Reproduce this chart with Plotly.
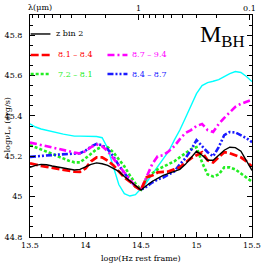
import numpy as np
import plotly.graph_objects as go

# log nu grid (Hz, rest frame)
lognu = [13.5, 13.55, 13.6, 13.65, 13.7, 13.75, 13.8, 13.85, 13.9, 13.95,
         14.0, 14.05, 14.1, 14.15, 14.2, 14.25, 14.3, 14.35, 14.4, 14.45,
         14.5, 14.55, 14.6, 14.65, 14.7, 14.75, 14.8, 14.85, 14.9, 14.95,
         15.0, 15.05, 15.1, 15.15, 15.2, 15.25, 15.3, 15.35, 15.4, 15.45, 15.5]

zbin2 = [45.145, 45.155, 45.16, 45.158, 45.152, 45.147, 45.142, 45.137, 45.132, 45.135,
         45.148, 45.16, 45.167, 45.163, 45.155, 45.14, 45.125, 45.1, 45.078, 45.052,
         45.033, 45.055, 45.075, 45.09, 45.105, 45.115, 45.125, 45.135, 45.16, 45.19,
         45.225, 45.205, 45.18, 45.18, 45.205, 45.23, 45.245, 45.243, 45.225, 45.18, 45.13]

m81_84 = [45.165, 45.158, 45.152, 45.148, 45.143, 45.138, 45.133, 45.128, 45.124, 45.123,
          45.14, 45.175, 45.195, 45.195, 45.178, 45.156, 45.125, 45.095, 45.075, 45.05,
          45.033, 45.095, 45.105, 45.12, 45.123, 45.125, 45.135, 45.145, 45.168, 45.19,
          45.205, 45.22, 45.18, 45.17, 45.195, 45.22, 45.215, 45.205, 45.195, 45.175, 45.148]

m87_94 = [45.268, 45.262, 45.255, 45.25, 45.245, 45.24, 45.233, 45.225, 45.218, 45.214,
          45.225, 45.245, 45.258, 45.25, 45.225, 45.19, 45.15, 45.115, 45.085, 45.05,
          45.035, 45.1, 45.16, 45.2, 45.205, 45.225, 45.25, 45.285, 45.315, 45.33,
          45.35, 45.36, 45.33, 45.32, 45.36, 45.39, 45.42, 45.445, 45.46, 45.47, 45.48]

m72_81 = [45.255, 45.245, 45.235, 45.225, 45.212, 45.2, 45.188, 45.178, 45.17, 45.17,
          45.19, 45.215, 45.235, 45.247, 45.245, 45.22, 45.185, 45.15, 45.105, 45.065,
          45.035, 45.09, 45.115, 45.135, 45.148, 45.16, 45.175, 45.195, 45.215, 45.235,
          45.245, 45.17, 45.11, 45.1, 45.11, 45.145, 45.145, 45.135, 45.115, 45.095, 45.074]

m84_87 = [45.197, 45.2, 45.202, 45.204, 45.206, 45.208, 45.21, 45.212, 45.213, 45.215,
          45.228, 45.248, 45.262, 45.255, 45.235, 45.2, 45.155, 45.115, 45.08, 45.05,
          45.033, 45.05, 45.07, 45.085, 45.095, 45.11, 45.125, 45.16, 45.19, 45.23,
          45.28, 45.25, 45.22, 45.2, 45.245, 45.305, 45.32, 45.318, 45.305, 45.29, 45.27]

cyan_sed = [45.36, 45.345, 45.335, 45.328, 45.322, 45.315, 45.31, 45.305, 45.30, 45.30,
            45.30, 45.30, 45.298, 45.292, 45.24, 45.15, 45.06, 45.015, 45.003, 45.01,
            45.04, 45.07, 45.11, 45.15, 45.19, 45.225, 45.28, 45.33, 45.39, 45.45,
            45.51, 45.55, 45.565, 45.572, 45.58, 45.595, 45.61, 45.62, 45.615, 45.595, 45.57]

# top axis: wavelength in micron
lam_major = [1.0, 0.1]
lam_major_text = ["1", "0.1"]
lam_minor = [9, 8, 7, 6, 5, 4, 3, 2, 0.9, 0.8, 0.7, 0.6, 0.5, 0.4, 0.3, 0.2]

def lam_to_lognu(l):
    return [float(np.log10(2.998e14 / v)) for v in l]

FONT = "DejaVu Serif"
FS = 8
fig = go.Figure()

series = [
    (cyan_sed, "#00ffff", "solid", 1.4),
    (m72_81, "#22ee22", "3px,2px", 2.6),
    (m84_87, "#1a1aff", "6px,2px,2px,2px,2px,2px", 2.6),
    (m87_94, "#ff00ff", "7px,3px,2px,3px", 2.6),
    (m81_84, "#ff0000", "8px,3px", 2.8),
]
for ys, col, dash, w in series:
    fig.add_trace(go.Scatter(x=lognu, y=ys, mode="lines",
                             line=dict(color=col, dash=dash, width=w),
                             showlegend=False, hoverinfo="skip"))
fig.add_trace(go.Scatter(x=lognu, y=zbin2, mode="lines", xaxis="x2",
                         line=dict(color="black", width=1.4),
                         showlegend=False, hoverinfo="skip"))

tickfont = dict(family=FONT, size=FS, color="black")
fig.update_layout(
    width=266, height=266,
    margin=dict(l=30, r=14, t=15, b=29, autoexpand=False),
    paper_bgcolor="white", plot_bgcolor="white",
    font=dict(family=FONT, size=FS, color="black"),
    xaxis=dict(range=[13.5, 15.5], tickvals=[13.5, 14, 14.5, 15, 15.5],
               ticktext=["13.5", "14", "14.5", "15", "15.5"], automargin=False,
               ticks="inside", ticklen=5, tickcolor="black", tickwidth=1,
               showline=True, linecolor="black", linewidth=1, mirror=False,
               showgrid=False, zeroline=False, tickfont=tickfont,
               minor=dict(dtick=0.1, tick0=13.5, ticks="inside", ticklen=3,
                          tickcolor="black", showgrid=False)),
    xaxis2=dict(range=[13.5, 15.5], overlaying="x", side="top", automargin=False,
                tickmode="array", tickvals=lam_to_lognu(lam_major),
                ticktext=lam_major_text,
                ticks="inside", ticklen=5, tickcolor="black", tickwidth=1,
                showline=True, linecolor="black", linewidth=1,
                showgrid=False, zeroline=False, tickfont=tickfont,
                minor=dict(tickmode="array", tickvals=lam_to_lognu(lam_minor),
                           ticks="inside", ticklen=3, tickcolor="black",
                           showgrid=False)),
    yaxis=dict(range=[44.8, 45.9], tickvals=[44.8, 45, 45.2, 45.4, 45.6, 45.8],
               ticktext=["44.8", "45", "45.2", "45.4", "45.6", "45.8"], automargin=False,
               ticks="inside", ticklen=5, tickcolor="black", tickwidth=1,
               showline=True, linecolor="black", linewidth=1, mirror="ticks",
               showgrid=False, zeroline=False, tickfont=tickfont,
               ticklabelstandoff=5,
               minor=dict(dtick=0.05, tick0=44.8, ticks="inside", ticklen=3,
                          tickcolor="black", showgrid=False)),
)

# legend drawn inside the plot
leg = [
    ("z bin 2", "black", "solid", 1.4, 0.003, 0.092, 0.11, 0.9145),
    ("8.1 \u2013 8.4", "#ff0000", "8px,3px", 2.6, 0.003, 0.092, 0.115, 0.82),
    ("8.7 \u2013 9.4", "#ff00ff", "7px,3px,2px,3px", 2.4, 0.349, 0.439, 0.452, 0.82),
    ("7.2 \u2013 8.1", "#22ee22", "3px,2px", 2.4, 0.003, 0.092, 0.115, 0.734),
    ("8.4 \u2013 8.7", "#1a1aff", "6px,2px,2px,2px,2px,2px", 2.4, 0.349, 0.439, 0.452, 0.734),
]
shapes = []
annotations = []
for txt, col, dash, w, x0, x1, tx, ty in leg:
    shapes.append(dict(type="line", xref="paper", yref="paper", x0=x0, x1=x1,
                       y0=ty, y1=ty, line=dict(color=col, dash=dash, width=w)))
    annotations.append(dict(text=txt, xref="paper", yref="paper", x=tx, y=ty,
                            xanchor="left", yanchor="middle", showarrow=False,
                            font=dict(family=FONT, size=FS, color=col)))

annotations += [
    dict(text="M<sub>BH</sub>", xref="paper", yref="paper", x=0.865, y=0.905,
         xanchor="center", yanchor="middle", showarrow=False,
         font=dict(family="Liberation Serif", size=24, color="black")),
    dict(text="\u03bb(\u03bcm)", xref="paper", yref="paper", x=0.047, y=1.0,
         xanchor="center", yanchor="bottom", showarrow=False, yshift=1,
         font=dict(family=FONT, size=FS, color="black")),
    dict(text="log\u03bd(Hz rest frame)", xref="paper", yref="paper", x=0.5, y=-0.066,
         xanchor="center", yanchor="top", showarrow=False,
         font=dict(family=FONT, size=FS, color="black")),
    dict(text="log\u03bdL<sub>\u03bd</sub> (erg/s)", xref="paper", yref="paper",
         x=-0.101, y=0.505, textangle=-90, xanchor="center", yanchor="middle",
         showarrow=False, font=dict(family=FONT, size=FS, color="black")),
]
fig.update_layout(shapes=shapes, annotations=annotations)

fig.write_html(
    "out.html",
    config={"displayModeBar": False, "staticPlot": True},
    post_script="document.body.style.margin='0';document.body.style.padding='0';"
                "document.documentElement.style.overflow='hidden';",
)
